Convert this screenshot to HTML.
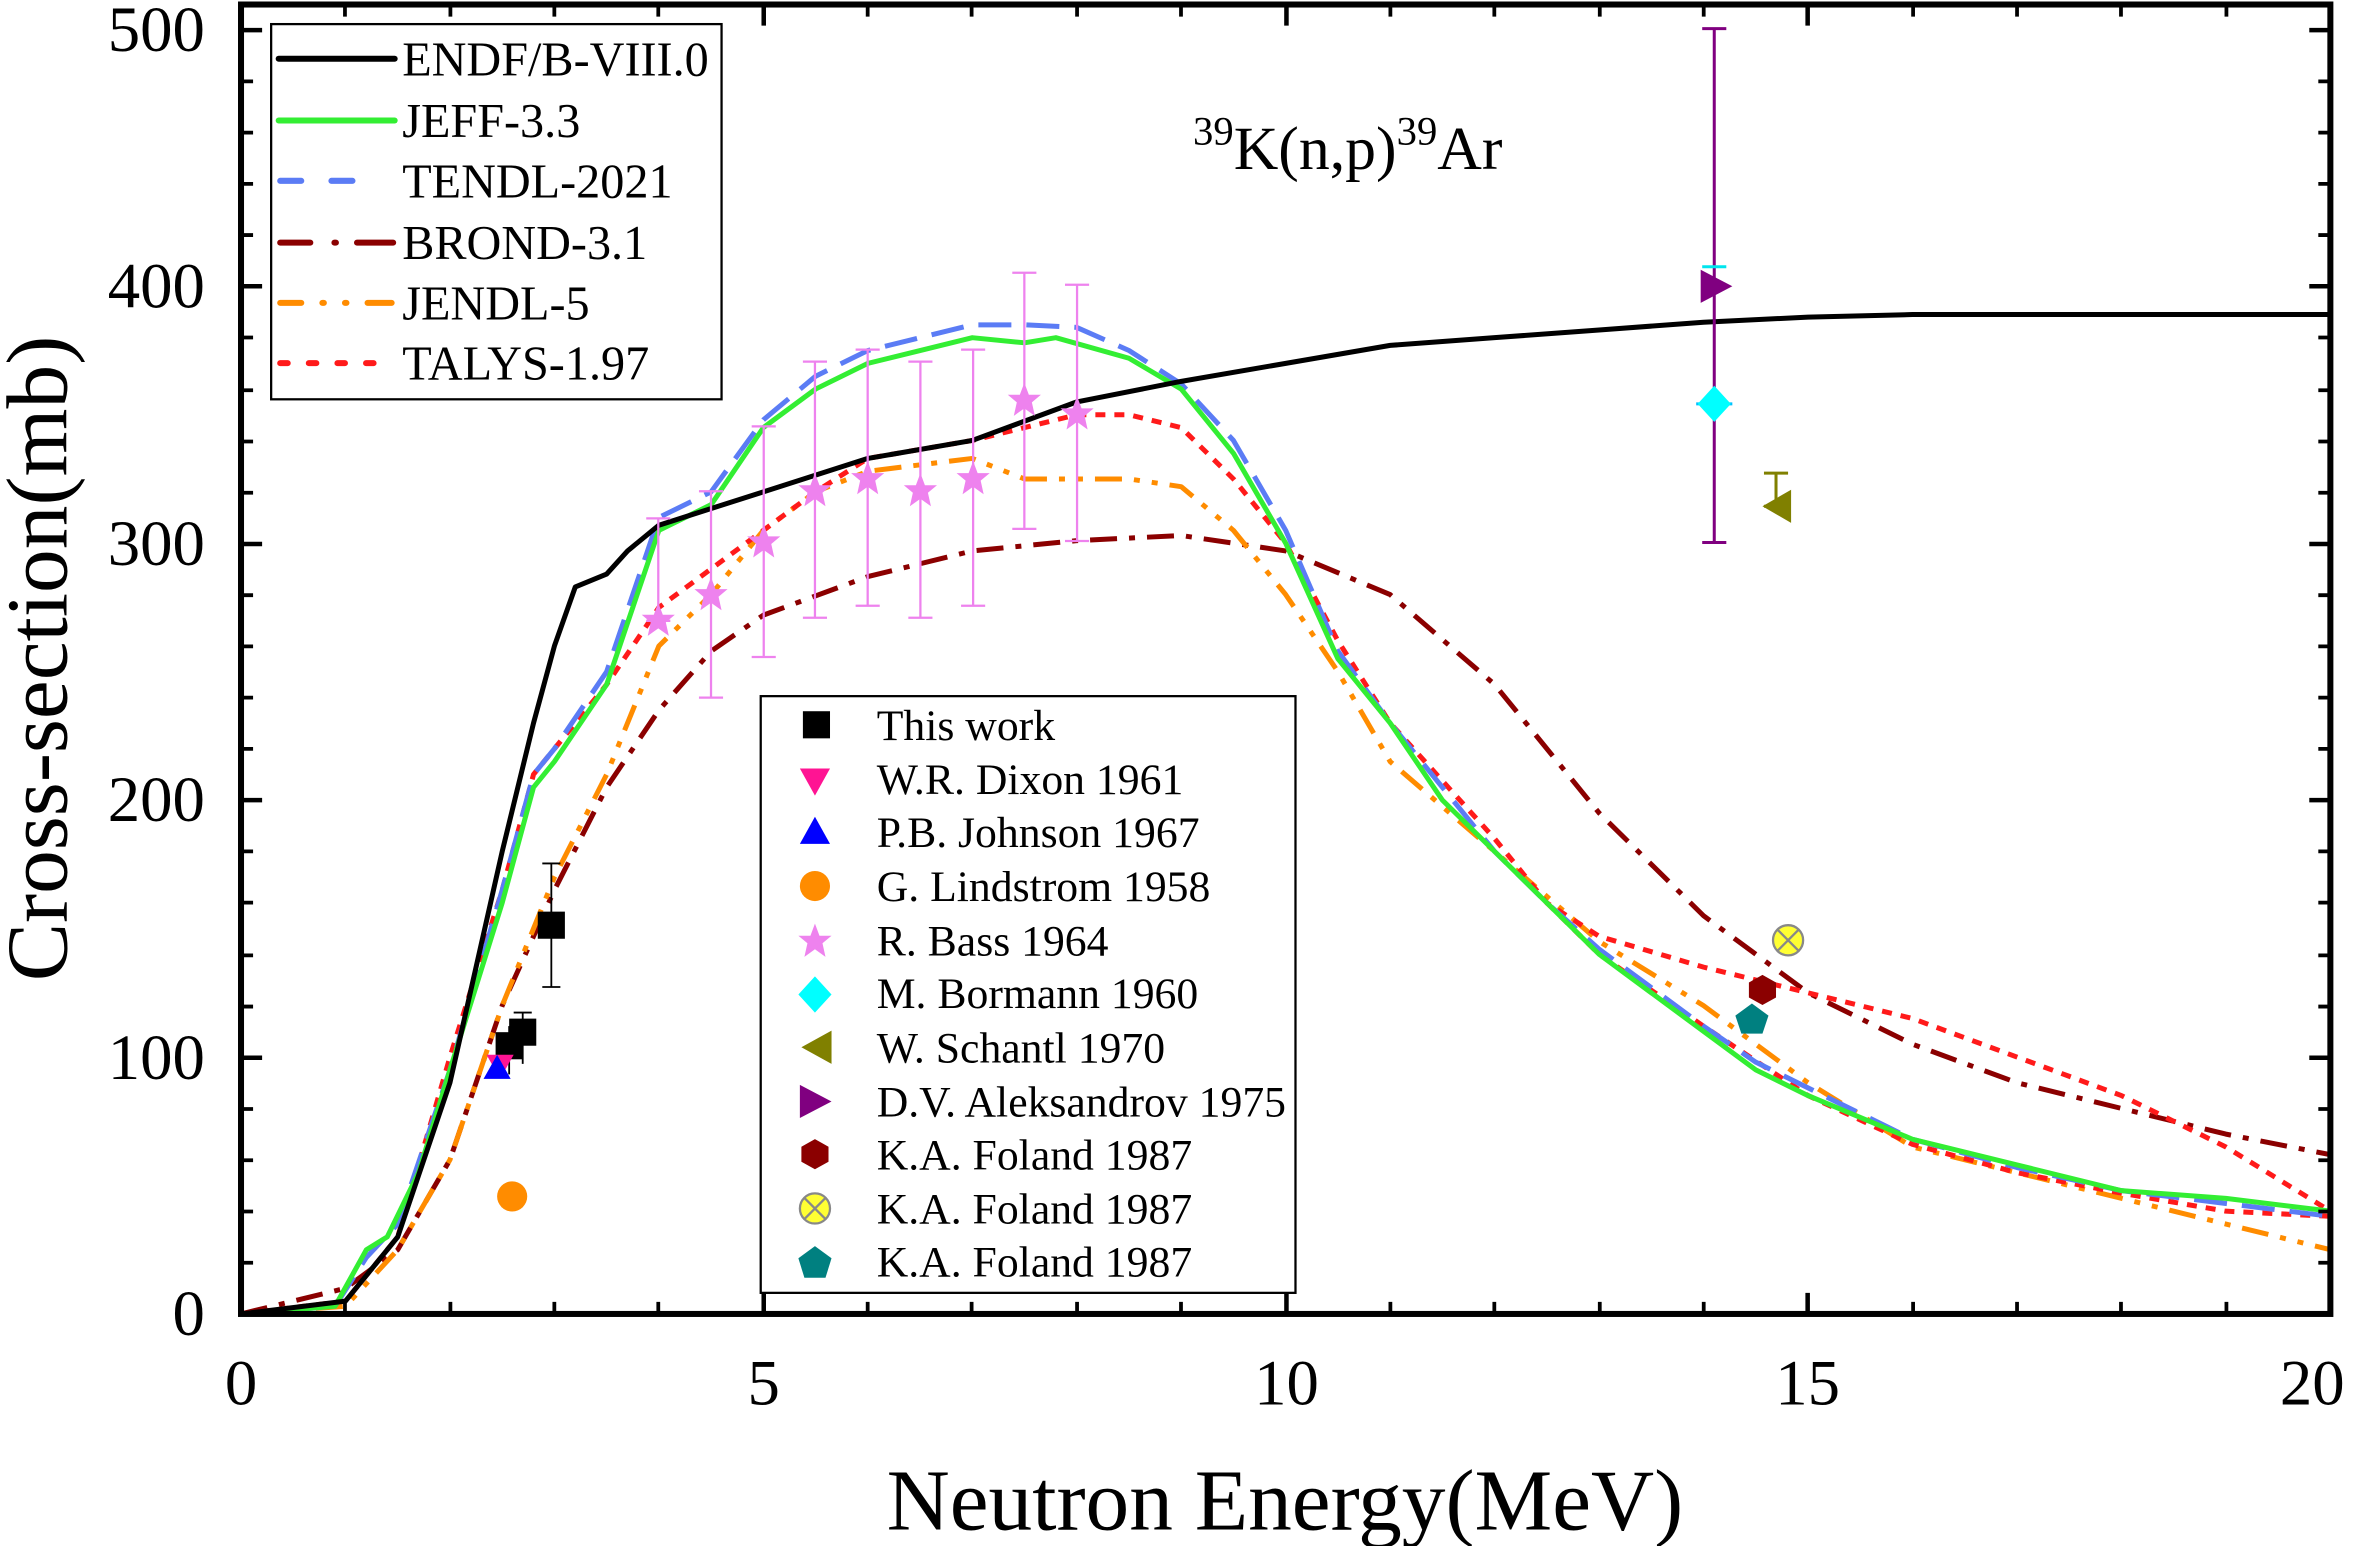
<!DOCTYPE html>
<html><head><meta charset="utf-8"><style>html,body{margin:0;padding:0;background:#fff}svg{display:block}</style></head>
<body>
<svg width="2362" height="1546" viewBox="0 0 1568 1026" preserveAspectRatio="none" xmlns="http://www.w3.org/2000/svg" font-family="'Liberation Serif', serif">
<defs>
<clipPath id="c"><rect x="160" y="3" width="1387" height="869"/></clipPath>
<polygon id="st" points="0,-12 3,-4 11,-4 5,1 7,10 0,5 -7,10 -5,1 -11,-4 -3,-4"/>
</defs>
<g clip-path="url(#c)">
<g transform="translate(160,872) scale(69.35,-1.705)" fill="none" stroke-linejoin="round">
<path vector-effect="non-scaling-stroke" stroke="#8b0000" stroke-width="5" stroke-dasharray="27,12,6,12" d="M0,0 L1,10 1.5,25 2,60 2.5,120 3,165 3.5,205 4,235 4.5,258 5,272 6,287 7,297 8,301 9,303 10,297 11,280 12,245 13,195 14,155 15,125 16,105 17,90 18,80 19,70 20,62"/>
<path vector-effect="non-scaling-stroke" stroke="#ff8c00" stroke-width="5" stroke-dasharray="27,12,6,12,6,12" d="M0,0 L1,3 1.5,25 2,60 2.5,120 3,170 3.5,210 4,260 4.5,280 5,305 5.5,320 6,328 7,333 7.5,325 8.5,325 9,322 9.5,305 10,280 10.5,250 11,215 12,180 13,145 14,120 15,90 16,65 17,55 18,45 19,35 20,25"/>
<path vector-effect="non-scaling-stroke" stroke="#ff1a1a" stroke-width="5" stroke-dasharray="10,9" d="M0,0 L1,5 1.5,30 2,100 2.5,165 2.8,210 3,220 3.5,245 4,275 4.5,290 5,305 5.5,320 6,333 7,340 7.5,345 8,350 8.5,350 9,345 9.5,325 10,300 10.5,262 11,230 12,185 12.5,160 13,147 14,135 15,125 16,115 17,100 18,85 19,65 20,40"/>
<path vector-effect="non-scaling-stroke" stroke="#ff1a1a" stroke-width="5" stroke-dasharray="10,9" d="M12.5,160 L13,140 14,112 15,85 16,66 17,55 18,47 19,40 20,38"/>
<path vector-effect="non-scaling-stroke" stroke="#5b7cf5" stroke-width="5" stroke-dasharray="33,15" d="M0,0 L0.9,3 1.2,22 1.5,35 2,95 2.5,165 2.8,210 3,220 3.5,250 4,310 4.5,320 5,348 5.5,365 6,375 6.5,380 7,385 7.5,385 8,384 8.5,375 9,362 9.5,340 10,305 10.5,258 11,230 11.5,205 12,180 12.5,160 13,142 13.5,127 14,112 14.5,98 15,88 16,68 17,57 18,48 19,43 20,38"/>
<path vector-effect="non-scaling-stroke" stroke="#33ee33" stroke-width="5" d="M0,0 L0.9,3 1.2,25 1.4,30 1.7,55 2,95 2.5,160 2.8,205 3,215 3.5,245 4,305 4.5,315 5,345 5.5,360 6,370 6.5,375 7,380 7.5,378 7.8,380 8.5,372 9,360 9.5,335 10,300 10.5,255 11,230 11.5,200 12,180 12.5,160 13,140 13.5,125 14,110 14.5,95 15,85 16,68 17,58 18,48 19,45 20,40"/>
<path vector-effect="non-scaling-stroke" stroke="#000" stroke-width="5" d="M0,0 L1,5 1.5,30 2,90 2.5,180 2.8,230 3,260 3.2,283 3.5,288 3.7,297 4,307 5,320 6,333 7,340 8,355 9,363 10,370 11,377 12,380 13,383 14,386 15,388 16,389 20,389"/>
</g>
</g>
<g stroke="#ee82ee" stroke-width="1.5" fill="none">
<path d="M437,412v-68m-8,0h16m-16,68h16 M472,463v-137m-8,0h16m-16,137h16 M507,436v-153m-8,0h16m-16,153h16 M541,410v-170m-8,0h16m-16,170h16 M576,402v-170m-8,0h16m-16,170h16 M611,410v-170m-8,0h16m-16,170h16 M646,402v-170m-8,0h16m-16,170h16 M680,351v-170m-8,0h16m-16,170h16 M715,359v-170m-8,0h16m-16,170h16"/>
</g>
<g stroke="#000" stroke-width="1.2"><path d="M366,655v-82m-6,0h12m-12,82h12 M347,706v-34m-6,0h12 M338,713v-32"/></g>
<path d="M1138,360v-341m-8,0h16m-16,341h16" stroke="#800080" stroke-width="2"/>
<path d="M1179,336v-22m-8,0h16m-16,22h16" stroke="#808000" stroke-width="2"/>
<path d="M1126,268h24" stroke="#00bfff" stroke-width="2"/>
<path d="M1130,177h16" stroke="#00e5ee" stroke-width="2"/>
<g fill="#ee82ee">
<use href="#st" x="437" y="412"/><use href="#st" x="472" y="395"/><use href="#st" x="507" y="360"/><use href="#st" x="541" y="326"/><use href="#st" x="576" y="318"/><use href="#st" x="611" y="326"/><use href="#st" x="646" y="318"/><use href="#st" x="680" y="266"/><use href="#st" x="715" y="275"/>
</g>
<rect x="357" y="605" width="18" height="18" fill="#000"/>
<rect x="338" y="676" width="18" height="18" fill="#000"/>
<rect x="329" y="685" width="18" height="18" fill="#000"/>
<polygon points="323,700 341,700 332,716" fill="#ff1493"/>
<polygon points="321,716 339,716 330,700" fill="#0000ff"/>
<circle cx="340" cy="794" r="10" fill="#ff8c00"/>
<polygon points="1138,256 1149,268 1138,280 1127,268" fill="#00ffff"/>
<polygon points="1189,325 1189,347 1170,336" fill="#808000"/>
<polygon points="1129,179 1129,201 1150,190" fill="#800080"/>
<polygon points="1170,647 1179,652 1179,662 1170,667 1161,662 1161,652" fill="#8b0000"/>
<circle cx="1187" cy="624" r="10" fill="#ffff33" stroke="#888" stroke-width="1.5"/><path d="M1180,617l14,14m0,-14l-14,14" stroke="#888" stroke-width="1.5"/>
<polygon points="1163,666 1174,674 1170,686 1156,686 1152,674" fill="#008080"/>
<rect x="160" y="3" width="1387" height="869" fill="none" stroke="#000" stroke-width="4"/>
<g stroke="#000" stroke-width="3">
<path d="M160,872v-14M507,872v-14M854,872v-14M1200,872v-14M1547,872v-14 M160,3v14M507,3v14M854,3v14M1200,3v14M1547,3v14"/>
<path d="M160,872h14M160,702h14M160,531h14M160,361h14M160,190h14M160,20h14 M1547,872h-14M1547,702h-14M1547,531h-14M1547,361h-14M1547,190h-14M1547,20h-14"/>
</g>
<g stroke="#000" stroke-width="2.5">
<path d="M229,872v-8M299,872v-8M368,872v-8M437,872v-8M576,872v-8M645,872v-8M715,872v-8M784,872v-8M923,872v-8M992,872v-8M1062,872v-8M1131,872v-8M1270,872v-8M1339,872v-8M1408,872v-8M1478,872v-8"/>
<path d="M229,3v8M299,3v8M368,3v8M437,3v8M576,3v8M645,3v8M715,3v8M784,3v8M923,3v8M992,3v8M1062,3v8M1131,3v8M1270,3v8M1339,3v8M1408,3v8M1478,3v8"/>
<path d="M160,838h8M160,804h8M160,770h8M160,736h8M160,668h8M160,634h8M160,599h8M160,565h8M160,497h8M160,463h8M160,429h8M160,395h8M160,327h8M160,293h8M160,259h8M160,224h8M160,156h8M160,122h8M160,88h8M160,54h8"/>
<path d="M1547,838h-8M1547,804h-8M1547,770h-8M1547,736h-8M1547,668h-8M1547,634h-8M1547,599h-8M1547,565h-8M1547,497h-8M1547,463h-8M1547,429h-8M1547,395h-8M1547,327h-8M1547,293h-8M1547,259h-8M1547,224h-8M1547,156h-8M1547,122h-8M1547,88h-8M1547,54h-8"/>
</g>
<g font-size="43" text-anchor="end" fill="#000">
<text x="136" y="886">0</text><text x="136" y="716">100</text><text x="136" y="545">200</text><text x="136" y="375">300</text><text x="136" y="204">400</text><text x="136" y="34">500</text>
</g>
<g font-size="43" text-anchor="middle" fill="#000">
<text x="160" y="932">0</text><text x="507" y="932">5</text><text x="854" y="932">10</text><text x="1200" y="932">15</text><text x="1535" y="932">20</text>
</g>
<text x="853" y="1015" font-size="58" text-anchor="middle">Neutron Energy(MeV)</text>
<text transform="translate(44,437) rotate(-90)" font-size="58" text-anchor="middle">Cross-section(mb)</text>
<text x="792" y="112" font-size="41"><tspan font-size="27" dy="-16">39</tspan><tspan dy="16">K(n,p)</tspan><tspan font-size="27" dy="-16">39</tspan><tspan dy="16">Ar</tspan></text>
<rect x="180" y="16" width="299" height="249" fill="#fff" stroke="#000" stroke-width="1.5"/>
<g stroke-width="4" stroke-linecap="round">
<path d="M262,39h-77" stroke="#000"/>
<path d="M262,80h-77" stroke="#33ee33"/>
<path d="M186,120h14m20,0h14" stroke="#5b7cf5"/>
<path d="M186,161h20m16,0h1m14,0h24" stroke="#8b0000"/>
<path d="M186,201h14m14,0h1m14,0h1m14,0h16" stroke="#ff8c00"/>
<path d="M186,241h5m14,0h5m14,0h5m14,0h5" stroke="#ff1a1a"/>
</g>
<g font-size="32" fill="#000">
<text x="267" y="50">ENDF/B-VIII.0</text><text x="267" y="91">JEFF-3.3</text><text x="267" y="131">TENDL-2021</text><text x="267" y="172">BROND-3.1</text><text x="267" y="212">JENDL-5</text><text x="267" y="252">TALYS-1.97</text>
</g>
<rect x="505" y="462" width="355" height="396" fill="#fff" stroke="#000" stroke-width="1.5"/>
<rect x="533" y="472" width="18" height="18" fill="#000"/>
<polygon points="531,510 551,510 541,528" fill="#ff1493"/>
<polygon points="531,560 551,560 541,542" fill="#0000ff"/>
<circle cx="541" cy="588" r="10" fill="#ff8c00"/>
<use href="#st" x="541" y="625" fill="#ee82ee"/>
<polygon points="541,648 552,660 541,672 530,660" fill="#00ffff"/>
<polygon points="552,684 552,706 532,695" fill="#808000"/>
<polygon points="531,720 531,742 552,731" fill="#800080"/>
<polygon points="541,756 550,761 550,771 541,776 532,771 532,761" fill="#8b0000"/>
<circle cx="541" cy="802" r="10" fill="#ffff33" stroke="#888" stroke-width="1.5"/><path d="M534,795l14,14m0,-14l-14,14" stroke="#888" stroke-width="1.5"/>
<polygon points="541,827 552,835 548,848 534,848 530,835" fill="#008080"/>
<g font-size="29" fill="#000">
<text x="582" y="491">This work</text><text x="582" y="527">W.R. Dixon 1961</text><text x="582" y="562">P.B. Johnson 1967</text><text x="582" y="598">G. Lindstrom 1958</text><text x="582" y="634">R. Bass 1964</text><text x="582" y="669">M. Bormann 1960</text><text x="582" y="705">W. Schantl 1970</text><text x="582" y="741">D.V. Aleksandrov 1975</text><text x="582" y="776">K.A. Foland 1987</text><text x="582" y="812">K.A. Foland 1987</text><text x="582" y="847">K.A. Foland 1987</text>
</g>
</svg>
</body></html>
